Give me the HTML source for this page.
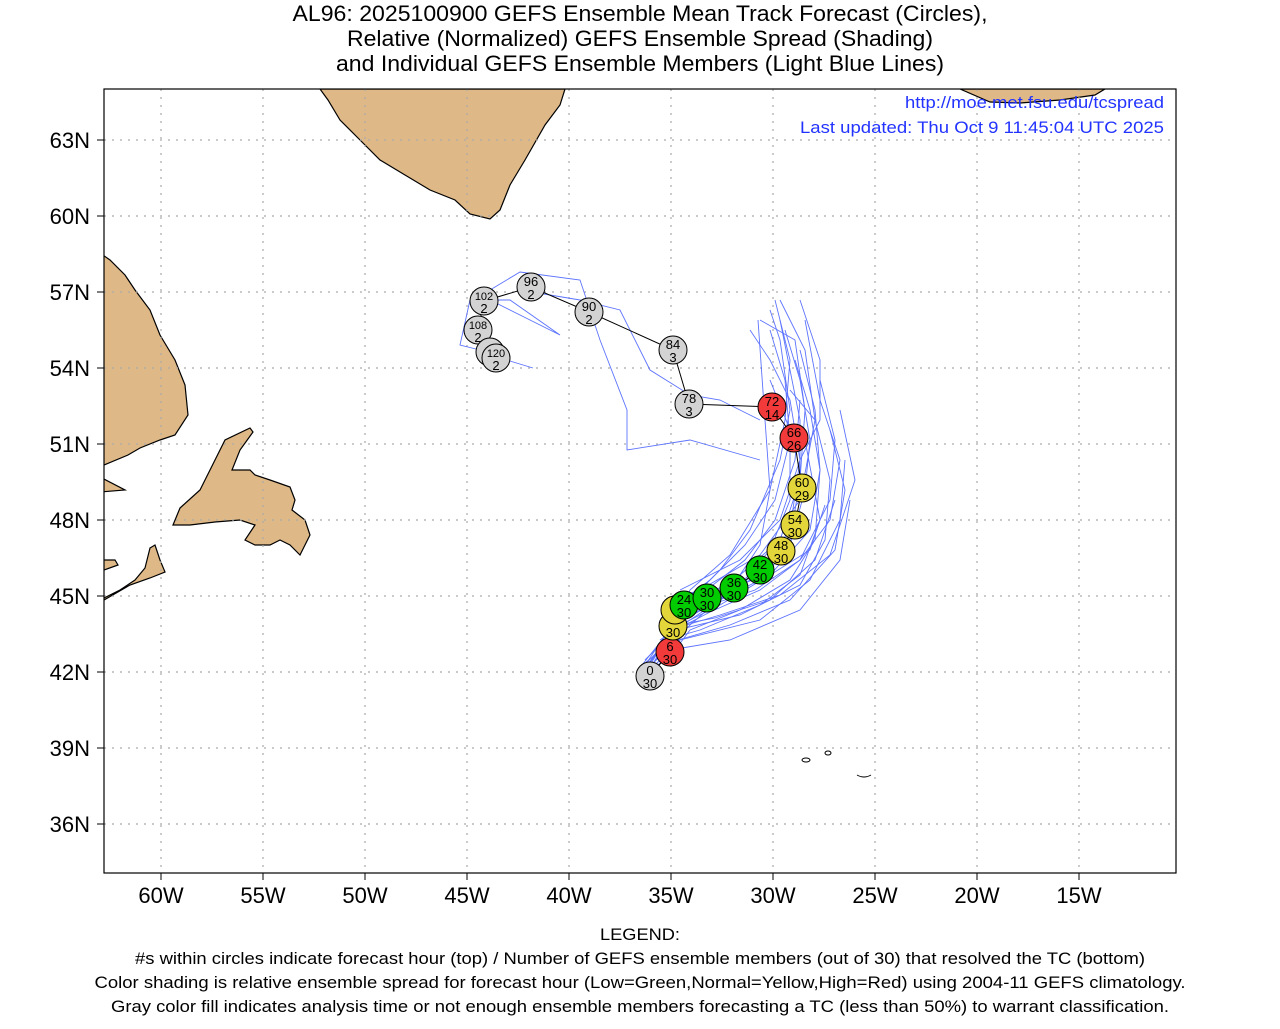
<!DOCTYPE html>
<html><head><meta charset="utf-8"><style>
html,body{margin:0;padding:0;background:#fff;}
body{width:1280px;height:1024px;overflow:hidden;font-family:"Liberation Sans",sans-serif;}
</style></head><body>
<svg width="1280" height="1024" xmlns="http://www.w3.org/2000/svg" font-family="Liberation Sans, sans-serif">
<defs><clipPath id="c"><rect x="104" y="89" width="1072" height="784"/></clipPath></defs>
<g font-size="22" text-anchor="middle" fill="#000">
<text x="640" y="21" textLength="695" lengthAdjust="spacingAndGlyphs">AL96: 2025100900 GEFS Ensemble Mean Track Forecast (Circles),</text>
<text x="640" y="46" textLength="586" lengthAdjust="spacingAndGlyphs">Relative (Normalized) GEFS Ensemble Spread (Shading)</text>
<text x="640" y="71" textLength="608" lengthAdjust="spacingAndGlyphs">and Individual GEFS Ensemble Members (Light Blue Lines)</text>
</g>
<g clip-path="url(#c)">
<g fill="#deb887" stroke="#000" stroke-width="1.2">
<polygon points="320,89 565,89 560,105 545,125 525,160 510,185 500,210 490,219 470,214 455,200 430,190 405,175 380,160 360,140 340,120 328,100"/>
<polygon points="100,253 110,260 125,275 135,290 150,310 160,335 175,360 185,385 188,415 175,435 160,440 140,448 128,455 104,465 100,465"/>
<polygon points="100,477 125,490 100,492"/>
<polygon points="173,525 180,508 200,490 215,460 225,440 250,428 253,432 240,450 232,470 250,470 255,475 270,480 290,487 295,500 292,510 305,520 310,535 300,555 290,545 280,540 270,545 255,545 245,540 255,525 240,520 215,522 190,525"/>
<polygon points="100,600 120,590 135,580 145,568 150,548 155,545 160,560 165,572 150,578 130,585 104,600"/>
<polygon points="100,560 115,560 118,565 104,570 100,570"/>
<polygon points="960,89 1105,89 1095,95 1060,100 1020,103 990,102"/>
</g>
<g fill="none" stroke="#000" stroke-width="1">
<ellipse cx="806" cy="760" rx="4" ry="2"/><ellipse cx="828" cy="753" rx="3" ry="2"/><path d="M857,775 Q864,779 871,775"/>
</g>
</g>
<g stroke="#aaa" stroke-width="1.2" stroke-dasharray="2,6">
<line x1="161" y1="89" x2="161" y2="873"/><line x1="263" y1="89" x2="263" y2="873"/><line x1="365" y1="89" x2="365" y2="873"/><line x1="467" y1="89" x2="467" y2="873"/><line x1="569" y1="89" x2="569" y2="873"/><line x1="671" y1="89" x2="671" y2="873"/><line x1="773" y1="89" x2="773" y2="873"/><line x1="875" y1="89" x2="875" y2="873"/><line x1="977" y1="89" x2="977" y2="873"/><line x1="1079" y1="89" x2="1079" y2="873"/>
<line x1="104" y1="140" x2="1176" y2="140"/><line x1="104" y1="216" x2="1176" y2="216"/><line x1="104" y1="292" x2="1176" y2="292"/><line x1="104" y1="368" x2="1176" y2="368"/><line x1="104" y1="444" x2="1176" y2="444"/><line x1="104" y1="520" x2="1176" y2="520"/><line x1="104" y1="596" x2="1176" y2="596"/><line x1="104" y1="672" x2="1176" y2="672"/><line x1="104" y1="748" x2="1176" y2="748"/><line x1="104" y1="824" x2="1176" y2="824"/>
</g>
<g fill="none" stroke="#4b64ff" stroke-width="0.9" opacity="0.9">
<polyline points="640,670 668,640 690,590 730,555 770,490 785,420 790,360 775,300"/>
<polyline points="645,668 670,635 700,600 740,575 780,540 800,480 805,410 795,340 760,320"/>
<polyline points="648,672 672,632 710,612 760,590 800,560 830,520 840,460 820,400 805,320"/>
<polyline points="642,665 670,630 720,615 780,595 830,555 855,480 840,410"/>
<polyline points="650,665 675,625 705,608 750,580 790,545 805,490 810,440 800,380 785,330"/>
<polyline points="652,660 680,620 720,600 770,575 810,530 820,470 815,410 800,350"/>
<polyline points="646,662 678,640 730,625 790,600 835,550 845,490 830,430"/>
<polyline points="655,660 685,628 740,615 800,585 825,540 830,480 815,420 790,390"/>
<polyline points="648,668 672,645 690,600 720,570 750,530 780,460 790,410 780,340 770,310"/>
<polyline points="650,670 680,640 760,620 810,580 840,520 845,460"/>
<polyline points="652,664 690,625 730,590 760,545 770,490 765,420 758,320"/>
<polyline points="644,667 675,620 700,595 745,560 775,520 795,460 800,400"/>
<polyline points="650,672 675,650 690,630 740,610 790,580 815,540 820,470 810,410 795,360"/>
<polyline points="648,666 665,640 700,630 760,605 800,575 820,520 805,440"/>
<polyline points="660,640 720,600 760,570 790,530 800,460 790,400 770,360 750,330"/>
<polyline points="655,655 690,605 740,585 770,550 790,500 790,430 770,380"/>
<polyline points="668,600 700,590 760,555 800,500 815,420 805,350 780,300"/>
<polyline points="665,620 710,605 755,590 800,560 830,500 835,440 820,380"/>
<polyline points="670,650 730,640 800,610 840,560 850,500"/>
<polyline points="662,628 715,618 770,600 815,560 835,500"/>
<polyline points="668,612 710,580 745,545 775,500 790,440 785,380 770,330"/>
<polyline points="672,600 720,590 770,575 810,550 825,505"/>
<polyline points="645,660 680,625 720,605 765,578 790,540 800,480 800,420 790,370 780,320"/>
<polyline points="680,590 740,560 780,520 800,460 820,420 820,360 810,330 800,300"/>
<polyline points="760,460 690,440 627,450 627,410 600,340 580,280 520,272 490,290 490,300 530,320 560,335 510,300 470,300 460,345 480,350"/>
<polyline points="760,420 720,400 690,395 650,370 620,310 580,300 520,290"/>
<polyline points="490,355 533,368"/>
</g>
<g stroke="#000" stroke-width="1" fill="none">
<polyline points="650,676 670,652 673,626 675,610 684,605 707,598 734,588 760,570 781,551 795,525 802,488 794,438 772,407 689,404 673,350 589,312 531,287 484,301 478,330 490,352 496,358"/>
</g>
<g stroke="#000" stroke-width="1" font-size="13" text-anchor="middle">
<circle cx="650" cy="676" r="14" fill="#d3d3d3"/>
<circle cx="670" cy="652" r="14" fill="#f23a3a"/>
<circle cx="673" cy="626" r="14" fill="#e3d63a"/>
<circle cx="675" cy="610" r="14" fill="#e3d63a"/>
<circle cx="684" cy="605" r="14" fill="#00cc00"/>
<circle cx="707" cy="598" r="14" fill="#00cc00"/>
<circle cx="734" cy="588" r="14" fill="#00cc00"/>
<circle cx="760" cy="570" r="14" fill="#00cc00"/>
<circle cx="781" cy="551" r="14" fill="#e3d63a"/>
<circle cx="795" cy="525" r="14" fill="#e3d63a"/>
<circle cx="802" cy="488" r="14" fill="#e3d63a"/>
<circle cx="794" cy="438" r="14" fill="#f23a3a"/>
<circle cx="772" cy="407" r="14" fill="#f23a3a"/>
<g fill="#d3d3d3">
<circle cx="689" cy="404" r="14"/><circle cx="673" cy="350" r="14"/><circle cx="589" cy="312" r="14"/><circle cx="531" cy="287" r="14"/><circle cx="484" cy="301" r="14"/><circle cx="478" cy="330" r="14"/><circle cx="490" cy="352" r="14"/><circle cx="496" cy="358" r="14"/>
</g>
<g stroke="none" fill="#000">
<text x="650" y="675">0</text><text x="650" y="688">30</text>
<text x="670" y="651">6</text><text x="670" y="664">30</text>
<text x="673" y="637">30</text>
<text x="684" y="604">24</text><text x="684" y="617">30</text>
<text x="707" y="597">30</text><text x="707" y="610">30</text>
<text x="734" y="587">36</text><text x="734" y="600">30</text>
<text x="760" y="569">42</text><text x="760" y="582">30</text>
<text x="781" y="550">48</text><text x="781" y="563">30</text>
<text x="795" y="524">54</text><text x="795" y="537">30</text>
<text x="802" y="487">60</text><text x="802" y="500">29</text>
<text x="794" y="437">66</text><text x="794" y="450">26</text>
<text x="772" y="406">72</text><text x="772" y="419">14</text>
<text x="689" y="403">78</text><text x="689" y="416">3</text>
<text x="673" y="349">84</text><text x="673" y="362">3</text>
<text x="589" y="311">90</text><text x="589" y="324">2</text>
<text x="531" y="286">96</text><text x="531" y="299">2</text>
<text x="484" y="300" font-size="11">102</text><text x="484" y="313">2</text>
<text x="478" y="329" font-size="11">108</text><text x="478" y="342">2</text>
<text x="496" y="357" font-size="11">120</text><text x="496" y="370">2</text>
</g>
</g>
<g font-size="17" fill="#2233ff" text-anchor="end">
<text x="1164" y="108" textLength="259" lengthAdjust="spacingAndGlyphs">http://moe.met.fsu.edu/tcspread</text>
<text x="1164" y="133" textLength="364" lengthAdjust="spacingAndGlyphs">Last updated: Thu Oct 9 11:45:04 UTC 2025</text>
</g>
<rect x="104" y="89" width="1072" height="784" fill="none" stroke="#000" stroke-width="1.2"/>
<g stroke="#000" stroke-width="1">
<line x1="161" y1="873" x2="161" y2="880"/><line x1="263" y1="873" x2="263" y2="880"/><line x1="365" y1="873" x2="365" y2="880"/><line x1="467" y1="873" x2="467" y2="880"/><line x1="569" y1="873" x2="569" y2="880"/><line x1="671" y1="873" x2="671" y2="880"/><line x1="773" y1="873" x2="773" y2="880"/><line x1="875" y1="873" x2="875" y2="880"/><line x1="977" y1="873" x2="977" y2="880"/><line x1="1079" y1="873" x2="1079" y2="880"/>
<line x1="97" y1="140" x2="104" y2="140"/><line x1="97" y1="216" x2="104" y2="216"/><line x1="97" y1="292" x2="104" y2="292"/><line x1="97" y1="368" x2="104" y2="368"/><line x1="97" y1="444" x2="104" y2="444"/><line x1="97" y1="520" x2="104" y2="520"/><line x1="97" y1="596" x2="104" y2="596"/><line x1="97" y1="672" x2="104" y2="672"/><line x1="97" y1="748" x2="104" y2="748"/><line x1="97" y1="824" x2="104" y2="824"/>
</g>
<g font-size="22" text-anchor="middle">
<text x="161" y="903">60W</text><text x="263" y="903">55W</text><text x="365" y="903">50W</text><text x="467" y="903">45W</text><text x="569" y="903">40W</text><text x="671" y="903">35W</text><text x="773" y="903">30W</text><text x="875" y="903">25W</text><text x="977" y="903">20W</text><text x="1079" y="903">15W</text>
</g>
<g font-size="22" text-anchor="end">
<text x="90" y="148">63N</text><text x="90" y="224">60N</text><text x="90" y="300">57N</text><text x="90" y="376">54N</text><text x="90" y="452">51N</text><text x="90" y="528">48N</text><text x="90" y="604">45N</text><text x="90" y="680">42N</text><text x="90" y="756">39N</text><text x="90" y="832">36N</text>
</g>
<g font-size="17" text-anchor="middle">
<text x="640" y="940" textLength="80" lengthAdjust="spacingAndGlyphs">LEGEND:</text>
<text x="640" y="964" textLength="1010" lengthAdjust="spacingAndGlyphs">#s within circles indicate forecast hour (top) / Number of GEFS ensemble members (out of 30) that resolved the TC (bottom)</text>
<text x="640" y="988" textLength="1091" lengthAdjust="spacingAndGlyphs">Color shading is relative ensemble spread for forecast hour (Low=Green,Normal=Yellow,High=Red) using 2004-11 GEFS climatology.</text>
<text x="640" y="1012" textLength="1058" lengthAdjust="spacingAndGlyphs">Gray color fill indicates analysis time or not enough ensemble members forecasting a TC (less than 50%) to warrant classification.</text>
</g>
</svg>
</body></html>
